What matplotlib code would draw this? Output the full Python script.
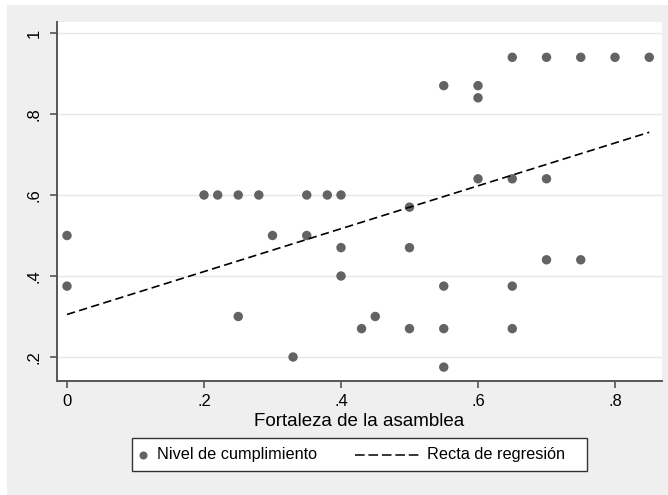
import matplotlib
matplotlib.use("Agg")
import matplotlib.pyplot as plt
from matplotlib.lines import Line2D
from matplotlib.patches import Rectangle

plt.rcParams['font.family'] = ['Liberation Sans', 'DejaVu Sans']

# Data
fortaleza = [0.00, 0.00, 0.20, 0.22, 0.25, 0.28, 0.35, 0.38, 0.40,
             0.30, 0.35, 0.25, 0.33, 0.40, 0.40, 0.43, 0.45,
             0.50, 0.55, 0.55, 0.55, 0.50, 0.50, 0.55, 0.60, 0.60,
             0.65, 0.70, 0.75, 0.80, 0.85, 0.60, 0.65, 0.70,
             0.70, 0.75, 0.65, 0.65]
cumplimiento = [0.50, 0.375, 0.60, 0.60, 0.60, 0.60, 0.60, 0.60, 0.60,
                0.50, 0.50, 0.30, 0.20, 0.47, 0.40, 0.27, 0.30,
                0.27, 0.27, 0.175, 0.375, 0.57, 0.47, 0.87, 0.87, 0.84,
                0.94, 0.94, 0.94, 0.94, 0.94, 0.64, 0.64, 0.64,
                0.44, 0.44, 0.375, 0.27]
fit_x = [0.0, 0.85]
fit_y = [0.305, 0.755]

xticks = [0, 0.2, 0.4, 0.6, 0.8]
xticklabels = ["0", ".2", ".4", ".6", ".8"]
yticks = [0.2, 0.4, 0.6, 0.8, 1.0]
yticklabels = [".2", ".4", ".6", ".8", "1"]
legend_labels = ["Nivel de cumplimiento", "Recta de regresión"]

W, H = 668, 495
fig = plt.figure(figsize=(W / 100, H / 100), dpi=100)
fig.patch.set_facecolor('white')
bg = '#efefef'
fig.add_artist(Rectangle((7 / W, 0), 1, 1 - 5 / H, transform=fig.transFigure,
                         facecolor=bg, edgecolor='none', zorder=-10))

L, R, T, B = 57, 662, 22, 381
ax = fig.add_axes([L / W, 1 - B / H, (R - L) / W, (B - T) / H])
ax.set_facecolor('white')

ax.set_xlim(-0.0146, 0.8686)
ax.set_ylim(0.1407, 1.0272)

ax.set_yticks(yticks)
ax.set_yticklabels(yticklabels, rotation=90, va='center', fontsize=12)
ax.set_xticks(xticks)
ax.set_xticklabels(xticklabels, fontsize=12)

ax.grid(axis='y', color='#e6e6e6', linewidth=1.0)
ax.set_axisbelow(True)

axis_col = '#555555'
for s in ['top', 'right']:
    ax.spines[s].set_visible(False)
for s in ['left', 'bottom']:
    ax.spines[s].set_color(axis_col)
    ax.spines[s].set_linewidth(1.4)
ax.tick_params(axis='both', color=axis_col, width=1.2, length=5,
               labelcolor='black')
ax.tick_params(axis='x', pad=4)
ax.tick_params(axis='y', pad=6)

marker_col = '#636363'
ax.scatter(fortaleza, cumplimiento, s=46, color=marker_col,
           edgecolors='none', zorder=3)
ax.plot(fit_x, fit_y, color='black', linestyle=(0, (5.0, 2.6)),
        linewidth=1.2, zorder=4)

ax.set_xlabel("Fortaleza de la asamblea", fontsize=13.5, labelpad=3)

# Legend drawn in figure pixel coordinates
def fx(px):
    return px / W

def fy(py):
    return 1 - py / H

lx0, lx1, ly0, ly1 = 132, 587, 438, 471
fig.add_artist(Rectangle((fx(lx0), fy(ly1)), fx(lx1) - fx(lx0),
                         fy(ly0) - fy(ly1), transform=fig.transFigure,
                         facecolor='white', edgecolor='#333333',
                         linewidth=1.0, zorder=5))
ymid = fy(454.5)
fig.add_artist(Line2D([fx(143)], [ymid], marker='o', linestyle='none',
                      color=marker_col, markersize=5.8, markeredgewidth=0,
                      transform=fig.transFigure, zorder=6))
fig.text(fx(157), ymid, legend_labels[0], fontsize=11.7, va='center',
         ha='left', zorder=6)
fig.add_artist(Line2D([fx(355), fx(419)], [ymid, ymid], color='black',
                      linestyle=(0, (6.3, 2.5)), linewidth=1.1,
                      transform=fig.transFigure, zorder=6))
fig.text(fx(427), ymid, legend_labels[1], fontsize=11.7, va='center',
         ha='left', zorder=6)

fig.savefig("out.png", dpi=100, facecolor=fig.get_facecolor())
